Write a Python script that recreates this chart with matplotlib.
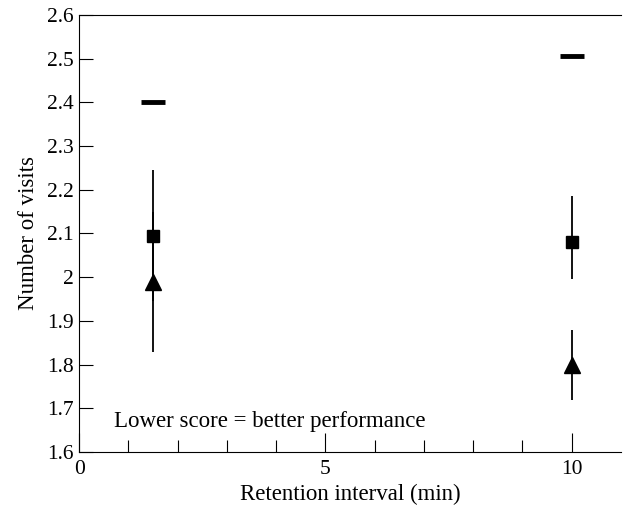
import matplotlib
matplotlib.use("Agg")
from matplotlib import pyplot as plt

plt.rcParams['font.family'] = ['Liberation Serif', 'DejaVu Serif']

# data
intervals = [1.5, 10]
chance = [2.40, 2.505]
square_mean = [2.095, 2.08]
square_lo = [1.945, 1.995]
square_hi = [2.245, 2.185]
tri_mean = [1.99, 1.80]
tri_lo = [1.83, 1.72]
tri_hi = [2.15, 1.88]
yticks = [1.6, 1.7, 1.8, 1.9, 2.0, 2.1, 2.2, 2.3, 2.4, 2.5, 2.6]
ylabels = ['1.6', '1.7', '1.8', '1.9', '2', '2.1', '2.2', '2.3', '2.4', '2.5', '2.6']

fig = plt.figure(figsize=(6.24, 5.12), dpi=100)
ax = fig.add_axes([0.127, 0.117, 0.868, 0.854])

sq_err = [[m - l for m, l in zip(square_mean, square_lo)],
          [h - m for m, h in zip(square_mean, square_hi)]]
tr_err = [[m - l for m, l in zip(tri_mean, tri_lo)],
          [h - m for m, h in zip(tri_mean, tri_hi)]]
ax.errorbar(intervals, square_mean, yerr=sq_err, fmt='s', color='black',
            ms=9, elinewidth=1.3, capsize=0)
ax.errorbar(intervals, tri_mean, yerr=tr_err, fmt='^', color='black',
            ms=11, elinewidth=1.3, capsize=0)
ax.plot(intervals, chance, linestyle='none', marker='_', color='black',
        ms=17, mew=3.5)

ax.set_xlim(0, 11)
ax.set_ylim(1.6, 2.6)
ax.set_xticks([0, 5, 10])
ax.set_xticks([1, 2, 3, 4, 6, 7, 8, 9], minor=True)
ax.set_yticks(yticks)
ax.set_yticklabels(ylabels)
ax.tick_params(axis='both', which='both', direction='in', labelsize=15.5, width=0.8)
ax.tick_params(axis='x', which='major', length=14, pad=6)
ax.tick_params(axis='x', which='minor', length=9)
ax.tick_params(axis='y', which='major', length=10, pad=4)
ax.spines['right'].set_visible(False)
for s in ['left', 'top', 'bottom']:
    ax.spines[s].set_linewidth(0.8)

ax.set_xlabel('Retention interval (min)', fontsize=16.5, labelpad=3)
ax.set_ylabel('Number of visits', fontsize=16.5, labelpad=6)
ax.text(0.7, 1.67, 'Lower score = better performance', fontsize=16.5, va='center')

fig.savefig('out.png', dpi=100)
